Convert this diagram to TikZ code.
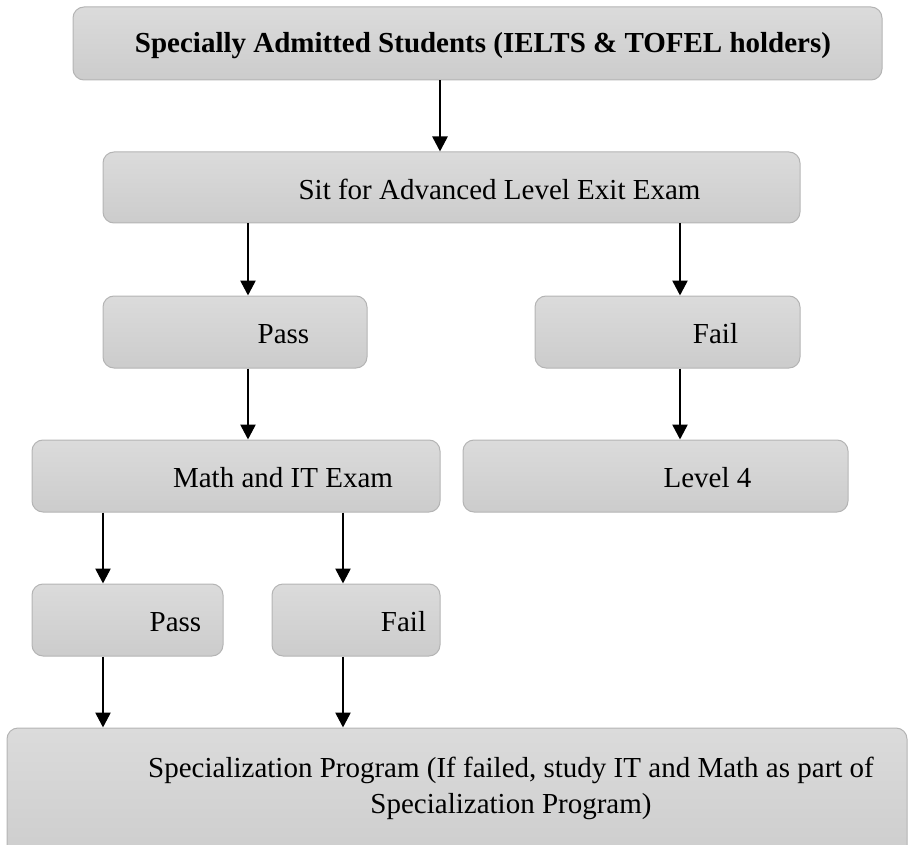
\documentclass[tikz,border=0pt]{standalone}
\usepackage{fontspec}
\setmainfont{Liberation Serif}
\usetikzlibrary{arrows.meta}
\definecolor{boxtop}{HTML}{DBDBDB}
\definecolor{boxbot}{HTML}{CCCCCC}
\definecolor{boxline}{HTML}{B4B4B4}
\tikzset{
  flowbox/.style={draw=boxline, line width=1pt, rounded corners=11pt,
    top color=boxtop, bottom color=boxbot, inner sep=0pt},
  boxtext/.style={anchor=base, inner sep=0pt, font=\fontsize{29}{36}\selectfont},
  flowarrow/.style={line width=2.6pt, -{Triangle[length=15pt,width=15pt]}},
}
\begin{document}
\begin{tikzpicture}[x=1pt,y=-1pt]
\useasboundingbox (0,0) rectangle (910,845);
\clip (0,0) rectangle (910,845);

% boxes
\node[flowbox, minimum width=809pt, minimum height=73pt] (top) at (477.5,43.5) {};
\node[flowbox, minimum width=697pt, minimum height=71pt] (sit) at (451.5,187.5) {};
\node[flowbox, minimum width=264pt, minimum height=72pt] (passA) at (235,332) {};
\node[flowbox, minimum width=265pt, minimum height=72pt] (failA) at (667.5,332) {};
\node[flowbox, minimum width=408pt, minimum height=72pt] (math) at (236,476) {};
\node[flowbox, minimum width=385pt, minimum height=72pt] (lvl) at (655.5,476) {};
\node[flowbox, minimum width=191pt, minimum height=72pt] (passB) at (127.5,620) {};
\node[flowbox, minimum width=168pt, minimum height=72pt] (failB) at (356,620) {};
\node[flowbox, minimum width=900pt, minimum height=142pt] (spec) at (457,799) {};

% labels
\node[boxtext, font=\fontsize{29}{36}\selectfont\bfseries] (ttop) at (483,53) {Specially Admitted Students (IELTS \& TOFEL holders)};
\node[boxtext] (tsit) at (499.5,200) {Sit for Advanced Level Exit Exam};
\node[boxtext] (tpassA) at (283.5,343) {Pass};
\node[boxtext] (tfailA) at (715.5,343) {Fail};
\node[boxtext] (tmath) at (283,487) {Math and IT Exam};
\node[boxtext] (tlvl) at (707.5,487) {Level 4};
\node[boxtext] (tpassB) at (175.5,631) {Pass};
\node[boxtext] (tfailB) at (403.5,631) {Fail};
\node[boxtext, align=center] (tspec) at (511,813) {Specialization Program (If failed, study IT and Math as part of\\Specialization Program)};

% arrow columns
\coordinate (c1) at (440,0);
\coordinate (c2) at (248,0);
\coordinate (c3) at (680,0);
\coordinate (c4) at (103,0);
\coordinate (c5) at (343,0);

% connectors
\draw[flowarrow] (top.south -| c1) -- (sit.north -| c1);
\draw[flowarrow] (sit.south -| c2) -- (passA.north -| c2);
\draw[flowarrow] (sit.south -| c3) -- (failA.north -| c3);
\draw[flowarrow] (passA.south -| c2) -- (math.north -| c2);
\draw[flowarrow] (failA.south -| c3) -- (lvl.north -| c3);
\draw[flowarrow] (math.south -| c4) -- (passB.north -| c4);
\draw[flowarrow] (math.south -| c5) -- (failB.north -| c5);
\draw[flowarrow] (passB.south -| c4) -- (spec.north -| c4);
\draw[flowarrow] (failB.south -| c5) -- (spec.north -| c5);
\end{tikzpicture}
\end{document}
